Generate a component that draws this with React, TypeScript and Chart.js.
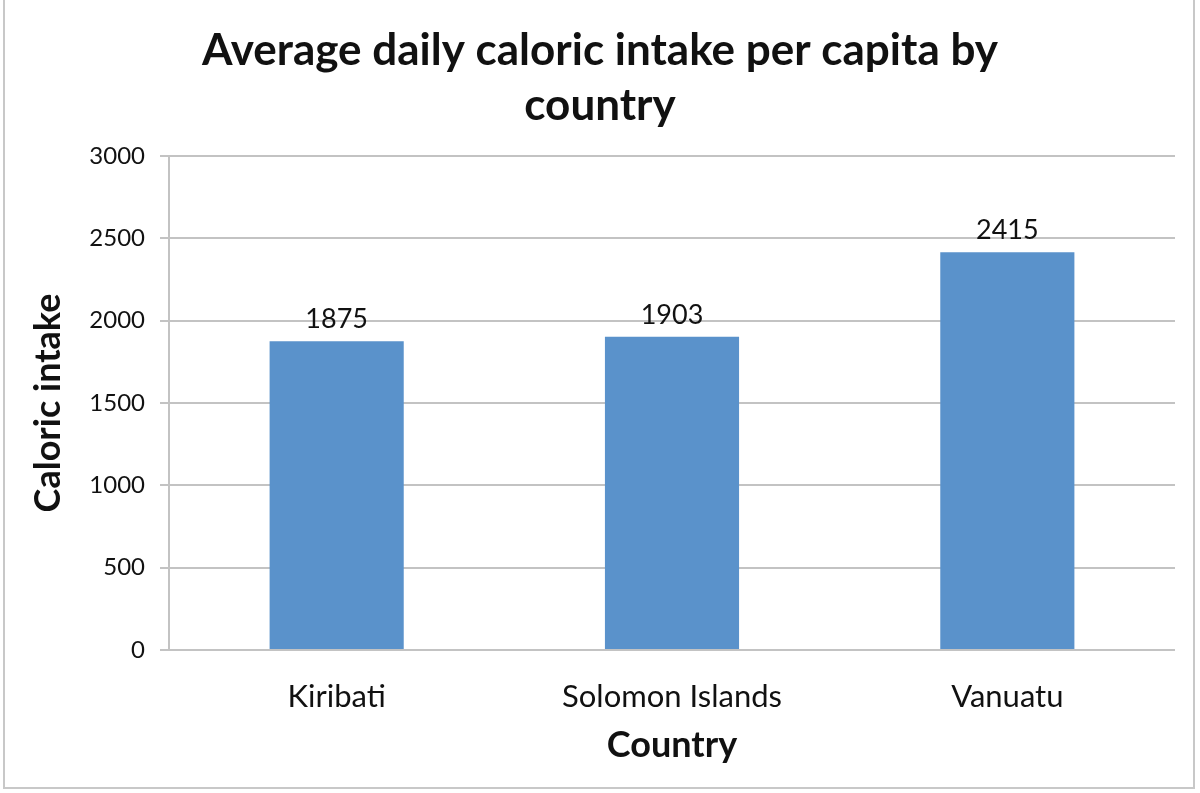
import React, { useEffect, useRef } from "react";
import { Chart, registerables } from "chart.js";

Chart.register(...registerables);

const categories = ["Kiribati", "Solomon Islands", "Vanuatu"];
const calories = [1875, 1903, 2415];
const titleLines = ["Average daily caloric intake per capita by", "country"];
const yTitle = "Caloric intake";
const xTitle = "Country";

const FONT = "Lato, 'Open Sans', sans-serif";
const GRID = "#c3c3c3";

const dataLabelPlugin = {
  id: "dataLabels",
  afterDatasetsDraw(chart: any) {
    const ctx = chart.ctx;
    const meta = chart.getDatasetMeta(0);
    ctx.save();
    ctx.font = `normal 27px ${FONT}`;
    ctx.fillStyle = "#111";
    ctx.textAlign = "center";
    ctx.textBaseline = "alphabetic";
    meta.data.forEach((bar: any, i: number) => {
      ctx.fillText(String(chart.data.datasets[0].data[i]), bar.x, bar.y - 13);
    });
    ctx.restore();
  },
};

export default function App() {
  const ref = useRef<HTMLCanvasElement | null>(null);
  useEffect(() => {
    const chart = new Chart(ref.current as HTMLCanvasElement, {
      type: "bar",
      data: {
        labels: categories,
        datasets: [
          {
            data: calories,
            backgroundColor: "#5a92cb",
            categoryPercentage: 1,
            barPercentage: 0.4,
          },
        ],
      },
      options: {
        animation: false,
        responsive: false,
        layout: { padding: { left: 25, right: 25, top: 0, bottom: 0 } },
        plugins: {
          legend: { display: false },
          tooltip: { enabled: false },
          title: {
            display: true,
            text: titleLines,
            color: "#111",
            font: { family: FONT, size: 44, weight: "bold", lineHeight: 55 / 44 },
            padding: { top: 23.5, bottom: 22.5 },
          },
        },
        scales: {
          x: {
            afterFit: (axis: any) => {
              axis.height = 143;
            },
            grid: { display: false, drawTicks: false },
            border: { display: false },
            ticks: {
              color: "#111",
              padding: 28,
              font: { family: FONT, size: 31 },
            },
            title: {
              display: true,
              text: xTitle,
              color: "#111",
              font: { family: FONT, size: 36, weight: "bold" },
              padding: { top: 0, bottom: 26 },
            },
          },
          y: {
            min: 0,
            max: 3000,
            afterFit: (axis: any) => {
              axis.width = 144;
            },
            ticks: {
              stepSize: 500,
              color: "#111",
              padding: 15,
              font: { family: FONT, size: 24 },
              callback: (v: any) => String(v),
            },
            grid: { color: GRID, lineWidth: 2, tickLength: 9, drawTicks: true },
            border: { display: true, color: GRID, width: 2 },
            title: {
              display: true,
              text: yTitle,
              color: "#111",
              font: { family: FONT, size: 36, weight: "bold" },
              padding: { top: 2, bottom: 0 },
            },
          },
        },
      },
      plugins: [dataLabelPlugin],
    } as any);
    return () => chart.destroy();
  }, []);
  return (
    <div style={{ position: "absolute", left: 0, top: 0, width: 1200, height: 793, background: "#fff", overflow: "hidden" }}>
      <canvas ref={ref} width={1200} height={793} style={{ position: "absolute", left: 0, top: 0 }} />
      <div
        style={{
          position: "absolute",
          left: 3,
          top: -5,
          width: 1192,
          height: 794,
          border: "2px solid #c8c8c8",
          boxSizing: "border-box",
          pointerEvents: "none",
        }}
      />
    </div>
  );
}
